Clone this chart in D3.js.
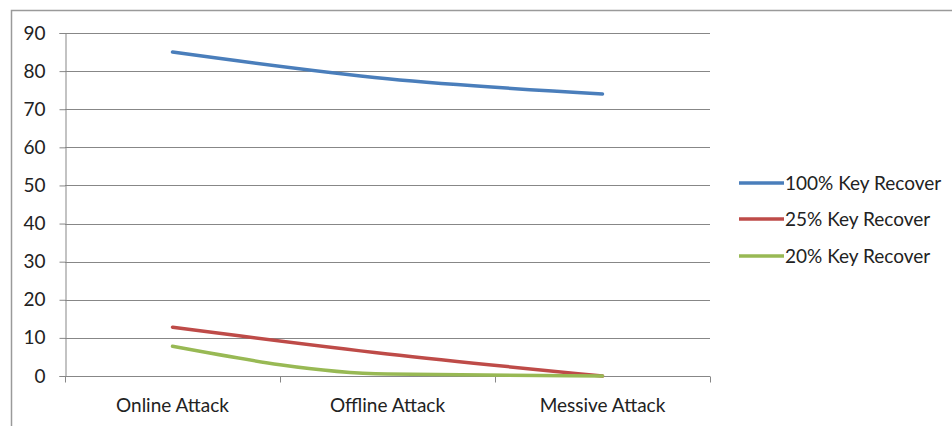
<!DOCTYPE html>
<html>
<head>
<meta charset="utf-8">
<script src="https://cdn.jsdelivr.net/npm/d3@7"></script>
<style>
  html, body { margin: 0; padding: 0; background: #fff; }
  svg { display: block; }
  text { font-family: Lato, "Open Sans", sans-serif; fill: #222; }
</style>
</head>
<body>
<svg id="chart" width="952" height="427"></svg>
<script>
// Categories and series
const categories = ["Online Attack", "Offline Attack", "Messive Attack"];
const seriesNames = ["100% Key Recover", "25% Key Recover", "20% Key Recover"];
const seriesColors = ["#4a7ebb", "#be4b48", "#98b954"];
const recover100 = [85, 78, 74];
const recover25 = [12.8, 5.8, 0];
const recover20 = [7.8, 0.5, 0];
const yTicks = [0, 10, 20, 30, 40, 50, 60, 70, 80, 90];

const seriesValues = [recover100, recover25, recover20];

const svg = d3.select("#chart");
const plot = { left: 65, right: 710, top: 33, bottom: 376 };

// Chart frame (top and left edges visible)
svg.append("path")
  .attr("d", "M11.5,426 L11.5,10.5 L952,10.5")
  .attr("fill", "none")
  .attr("stroke", "#9a9a9a")
  .attr("stroke-width", 1.5);

const x = d3.scaleBand().domain(categories).range([plot.left, plot.right]).padding(0);
const y = d3.scaleLinear().domain([0, 90]).range([plot.bottom, plot.top]);

// Horizontal gridlines
svg.append("g")
  .selectAll("line")
  .data(yTicks)
  .join("line")
  .attr("x1", plot.left)
  .attr("x2", plot.right)
  .attr("y1", d => Math.round(y(d)) + 0.5)
  .attr("y2", d => Math.round(y(d)) + 0.5)
  .attr("stroke", "#878787")
  .attr("stroke-width", 1);

// Y axis
const yAxis = svg.append("g")
  .attr("transform", `translate(${plot.left + 0.5},0)`)
  .call(d3.axisLeft(y).tickValues(yTicks).tickSize(6).tickPadding(14));
yAxis.select(".domain").attr("stroke", "#878787");
yAxis.selectAll(".tick line").attr("stroke", "#878787");
yAxis.selectAll(".tick text")
  .style("font-size", "19px")
  .style("font-family", "Lato, sans-serif")
  .style("fill", "#222");

// X axis with tick marks on category boundaries
const xAxis = svg.append("g")
  .attr("transform", `translate(0,${plot.bottom + 0.5})`);
xAxis.append("line")
  .attr("x1", plot.left).attr("x2", plot.right)
  .attr("stroke", "#878787");
const boundaries = categories.map(c => x(c)).concat([x(categories[categories.length - 1]) + x.bandwidth()]);
xAxis.selectAll("line.tick")
  .data(boundaries)
  .join("line")
  .attr("class", "tick")
  .attr("x1", d => Math.round(d) + 0.5)
  .attr("x2", d => Math.round(d) + 0.5)
  .attr("y1", 0).attr("y2", 6)
  .attr("stroke", "#878787");
xAxis.selectAll("text")
  .data(categories)
  .join("text")
  .attr("x", d => x(d) + x.bandwidth() / 2)
  .attr("y", 29)
  .attr("dy", "0.35em")
  .attr("text-anchor", "middle")
  .style("font-size", "19px")
  .text(d => d);

// Series lines (smoothed)
const line = d3.line()
  .x((d, i) => x(categories[i]) + x.bandwidth() / 2)
  .y(d => y(d))
  .curve(d3.curveMonotoneX);

svg.append("g")
  .selectAll("path")
  .data(seriesValues)
  .join("path")
  .attr("d", d => line(d))
  .attr("fill", "none")
  .attr("stroke", (d, i) => seriesColors[i])
  .attr("stroke-width", 3.5)
  .attr("stroke-linecap", "round");

// Legend
const legendY = [183, 219, 256];
const legend = svg.append("g")
  .selectAll("g")
  .data(seriesNames)
  .join("g")
  .attr("transform", (d, i) => `translate(739,${legendY[i]})`);
legend.append("line")
  .attr("x1", 0).attr("x2", 45)
  .attr("stroke", (d, i) => seriesColors[i])
  .attr("stroke-width", 3.5);
legend.append("text")
  .attr("x", 46)
  .attr("dy", "0.35em")
  .style("font-size", "19px")
  .text(d => d);
</script>
</body>
</html>
